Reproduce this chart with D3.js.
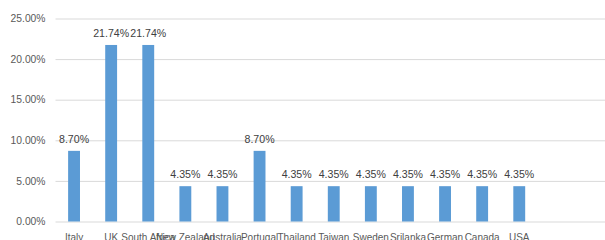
<!DOCTYPE html>
<html>
<head>
<meta charset="utf-8">
<script src="https://cdn.jsdelivr.net/npm/d3@7"></script>
<style>
  body { margin: 0; background: #fff; }
  svg { display: block; font-family: "Liberation Sans", Arial, sans-serif; }
</style>
</head>
<body>
<div id="chart"></div>
<script>
// データ
const countries = ["Italy", "UK", "South Africa", "New Zealand", "Australia", "Portugal", "Thailand", "Taiwan", "Sweden", "Srilanka", "German", "Canada", "USA"];
const shares = [8.70, 21.74, 21.74, 4.35, 4.35, 8.70, 4.35, 4.35, 4.35, 4.35, 4.35, 4.35, 4.35];
const yTicks = [0, 5, 10, 15, 20, 25];

const W = 605, H = 240;
const left = 55.5, step = 37.1;

const svg = d3.select("#chart").append("svg")
    .attr("width", W)
    .attr("height", H);

const x = d3.scaleBand()
    .domain(countries)
    .range([left, left + step * countries.length])
    .paddingInner(0.68)
    .paddingOuter(0.34);

const y = d3.scaleLinear()
    .domain([0, 25])
    .range([221.5, 18.5]);

// グリッド線とY軸
const yAxis = svg.append("g")
    .attr("transform", `translate(${left},0)`)
    .call(d3.axisLeft(y).tickValues(yTicks).tickSize(-(W - left)).tickPadding(10)
        .tickFormat(d => d.toFixed(2) + "%"));
yAxis.select(".domain").remove();
yAxis.selectAll("line").attr("stroke", "#d9d9d9");
yAxis.selectAll("text").attr("fill", "#595959").style("font-size", "10.3px");

// 棒
svg.selectAll("rect.bar")
    .data(shares)
    .enter()
    .append("rect")
    .attr("class", "bar")
    .attr("x", (d, i) => x(countries[i]))
    .attr("y", d => y(d))
    .attr("width", x.bandwidth())
    .attr("height", d => y(0) - y(d))
    .attr("fill", "#5b9bd5");

// データラベル
svg.selectAll("text.val")
    .data(shares)
    .enter()
    .append("text")
    .attr("class", "val")
    .attr("x", (d, i) => x(countries[i]) + x.bandwidth() / 2)
    .attr("y", d => y(d) - 8)
    .attr("text-anchor", "middle")
    .attr("fill", "#404040")
    .style("font-size", "10.6px")
    .text(d => d.toFixed(2) + "%");

// X軸ラベル
const xAxis = svg.append("g")
    .attr("transform", `translate(0,${y(0)})`)
    .call(d3.axisBottom(x).tickSize(0).tickPadding(12));
xAxis.select(".domain").remove();
xAxis.selectAll("text").attr("fill", "#595959").style("font-size", "10px");
</script>
</body>
</html>
